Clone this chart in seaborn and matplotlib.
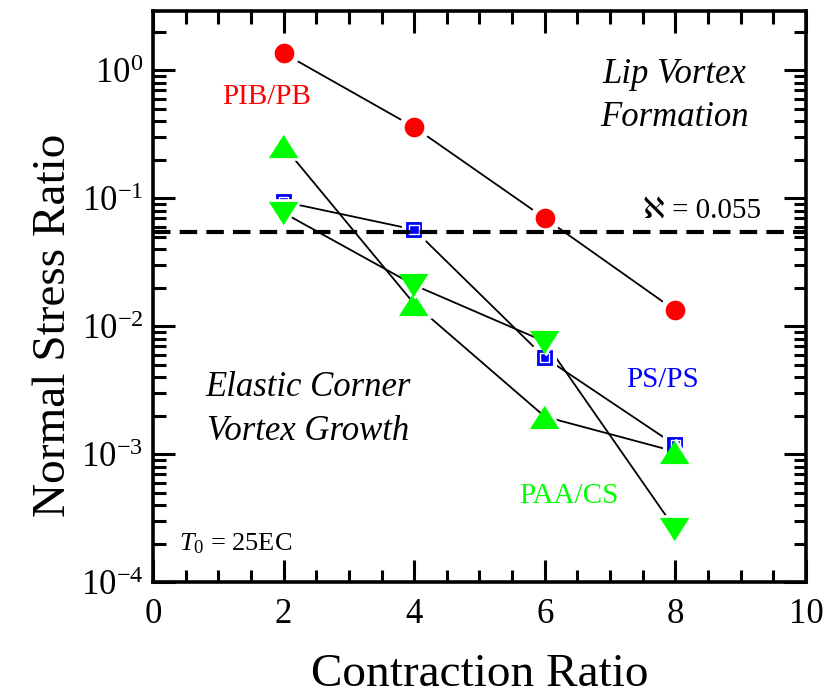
import numpy as np
import pandas as pd
import seaborn as sns
import matplotlib.pyplot as plt
from matplotlib.ticker import LogLocator, MultipleLocator, NullFormatter

# %% data
contraction = [2, 4, 6, 8]
pib_pb = [1.36, 0.36, 0.070, 0.0133]
ps_ps = [0.094, 0.057, 0.0057, 0.00118]
paa_cs_up = [0.256, 0.015, 0.00197, 0.00105]
paa_cs_down = [0.077, 0.021, 0.0076, 0.00026]
critical_ratio = 0.055

x_ticks = [0, 2, 4, 6, 8, 10]

# %% style
sns.set_theme(style="white")
plt.rcParams["font.family"] = ["Liberation Serif", "DejaVu Sans"]
plt.rcParams["mathtext.fontset"] = "custom"
plt.rcParams["mathtext.rm"] = "Liberation Serif"
plt.rcParams["mathtext.it"] = "Liberation Serif:italic"
plt.rcParams["text.color"] = "black"
plt.rcParams["axes.labelcolor"] = "black"

fig = plt.figure(figsize=(8.36, 6.99), dpi=100)
ax = fig.add_axes([0.183, 0.167, 0.781, 0.817])
ax.set_yscale("log")

# %% connecting lines
for vals in [pib_pb, ps_ps, paa_cs_up, paa_cs_down]:
    sns.lineplot(x=contraction, y=vals, color="black", lw=1.3, ax=ax, zorder=2)

# %% markers (white edge leaves a gap between marker and line)
tri_up = [(-1, -0.79), (1, -0.79), (0, 0.79)]
tri_down = [(-1, 0.79), (1, 0.79), (0, -0.79)]
sns.scatterplot(x=contraction, y=pib_pb, marker="o", s=330, color="#ff0000",
                edgecolor="white", linewidth=4, ax=ax, zorder=3)
sns.scatterplot(x=contraction, y=ps_ps, marker="s", s=210, color="#0000ff",
                edgecolor="white", linewidth=3, ax=ax, zorder=3)
sns.scatterplot(x=contraction, y=ps_ps, marker="s", s=45, color="none",
                edgecolor="white", linewidth=1, ax=ax, zorder=3.1)
sns.scatterplot(x=contraction, y=paa_cs_up, marker=tri_up, s=560, color="#00ff00",
                edgecolor="white", linewidth=2, ax=ax, zorder=3.2)
sns.scatterplot(x=contraction, y=paa_cs_down, marker=tri_down, s=560, color="#00ff00",
                edgecolor="white", linewidth=2, ax=ax, zorder=3.2)

ax.axhline(critical_ratio, color="black", lw=3, ls=(0, (4.2, 2.2)), zorder=4)

# %% axes
ax.set_xlim(0, 10)
ax.set_ylim(1e-4, 2.9)
ax.set_xticks(x_ticks)
ax.xaxis.set_minor_locator(MultipleLocator(0.5))
ax.yaxis.set_major_locator(LogLocator(base=10, numticks=10))
ax.yaxis.set_minor_locator(LogLocator(base=10, subs=np.arange(2, 10), numticks=20))
ax.yaxis.set_minor_formatter(NullFormatter())
ax.tick_params(which="both", direction="in", top=True, right=True,
               left=True, bottom=True, width=2.2, colors="black")
ax.tick_params(which="major", length=16, labelsize=25)
ax.tick_params(which="minor", length=9)
ax.tick_params(axis="x", which="major", pad=11)
ax.tick_params(axis="y", which="major", pad=7)
for sp in ax.spines.values():
    sp.set_linewidth(2.6)
    sp.set_color("black")

ax.set_xlabel("Contraction Ratio", fontsize=34)
ax.set_ylabel("Normal Stress Ratio", fontsize=34)
ax.xaxis.set_label_coords(0.5, -0.125)
ax.yaxis.set_label_coords(-0.12, 0.45)

# %% annotations
ax.text(1.74, 0.62, "PIB/PB", color="#ff0000", fontsize=21, ha="center", va="center")
ax.text(7.8, 0.0038, "PS/PS", color="#0000ff", fontsize=21, ha="center", va="center")
ax.text(6.37, 0.00047, "PAA/CS", color="#00ff00", fontsize=21, ha="center", va="center")
ax.text(7.98, 0.93, "Lip Vortex", fontsize=25, style="italic", ha="center", va="center")
ax.text(7.98, 0.43, "Formation", fontsize=25, style="italic", ha="center", va="center")
ax.text(2.37, 0.0033, "Elastic Corner", fontsize=25, style="italic", ha="center", va="center")
ax.text(2.37, 0.0015, "Vortex Growth", fontsize=25, style="italic", ha="center", va="center")
ax.text(9.32, 0.08, "\u2135 = 0.055", fontsize=21, ha="right", va="center",
        family=["Liberation Serif", "DejaVu Sans"])
ax.text(0.4, 0.0002, "$T_0$ = 25EC", fontsize=19, ha="left", va="center")

fig.savefig("out.png", dpi=100)
